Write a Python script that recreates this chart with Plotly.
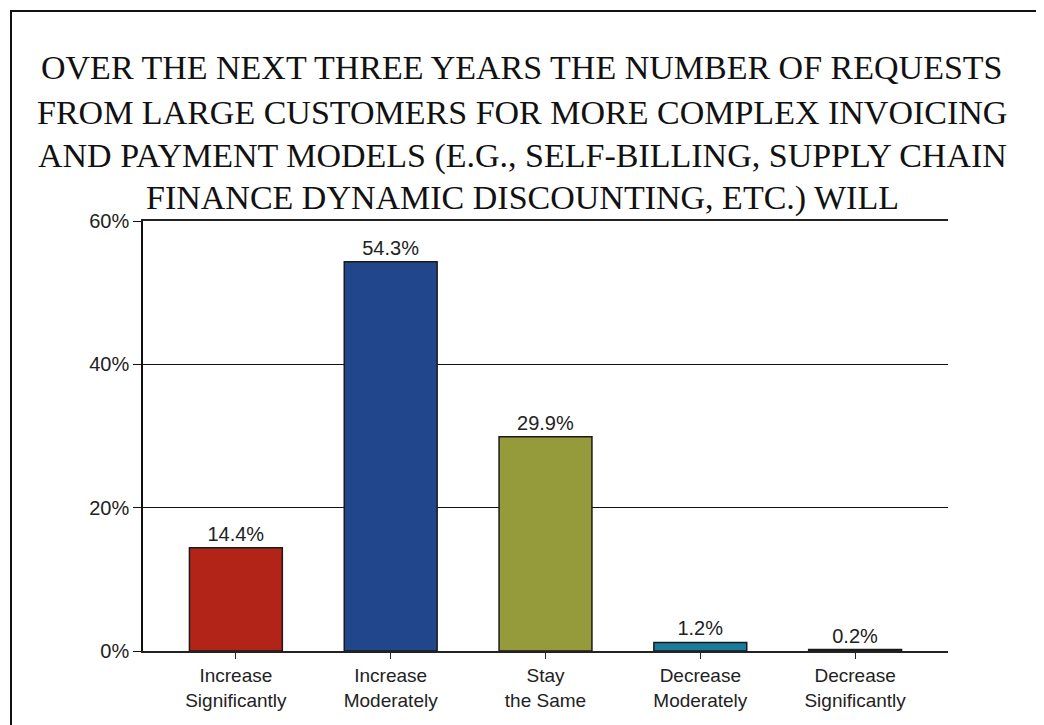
import plotly.graph_objects as go

categories = ["Increase<br>Significantly", "Increase<br>Moderately", "Stay<br>the Same",
              "Decrease<br>Moderately", "Decrease<br>Significantly"]
values = [14.4, 54.3, 29.9, 1.2, 0.2]
colors = ["#B22418", "#21468B", "#959B3A", "#1A7C9A", "#2D1A3A"]
title_lines = [
    "OVER THE NEXT THREE YEARS THE NUMBER OF REQUESTS",
    "FROM LARGE CUSTOMERS FOR MORE COMPLEX INVOICING",
    "AND PAYMENT MODELS (E.G., SELF-BILLING, SUPPLY CHAIN",
    "FINANCE DYNAMIC DISCOUNTING, ETC.) WILL",
]
yticks = [0, 20, 40, 60]

OFF = 8  # page body margin
W, H = 1044 - OFF, 725 - OFF
ml = 143 - OFF
mt = 221 - OFF
mr = W - (948 - OFF)
mb = H - (651 - OFF)
pw, ph = W - ml - mr, H - mt - mb

SANS = "Liberation Sans"

fig = go.Figure(go.Bar(
    x=list(range(len(categories))), y=values,
    marker=dict(color=colors, line=dict(color="#1a1a1a", width=1.5)),
    width=0.6,
    text=[f"{v:.1f}%" for v in values], textposition="outside",
    textfont=dict(family=SANS, size=20, color="#222"),
    cliponaxis=False,
))

fig.update_layout(
    width=W, height=H,
    margin=dict(l=ml, r=mr, t=mt, b=mb),
    paper_bgcolor="white", plot_bgcolor="white",
    showlegend=False,
    xaxis=dict(
        tickmode="array", tickvals=list(range(len(categories))), ticktext=categories,
        range=[-0.6, 4.6], showgrid=False, showline=True, linecolor="#222", linewidth=2,
        mirror=True,
        ticks="outside", ticklen=6, tickcolor="#222",
        tickfont=dict(family=SANS, size=19, color="#222"),
        zeroline=False, fixedrange=True,
    ),
    yaxis=dict(
        range=[0, 60], tickvals=yticks, ticktext=[f"{t}%" for t in yticks],
        showgrid=True, gridcolor="#111", gridwidth=1.3,
        showline=True, linecolor="#111", linewidth=1.5,
        ticks="outside", ticklen=8, tickcolor="#111",
        tickfont=dict(family=SANS, size=20, color="#222"),
        zeroline=False, fixedrange=True,
    ),
)

# helpers: screen pixel -> paper coords
def px_x(p):
    return (p - OFF - ml) / pw

def px_y(p):
    return (H - mb - (p - OFF)) / ph

fig.add_shape(type="rect", xref="paper", yref="paper",
              x0=px_x(11), x1=px_x(1042), y0=px_y(740), y1=px_y(11),
              line=dict(color="#111", width=2), fillcolor="rgba(0,0,0,0)", layer="above")

line_y = [68, 112, 156, 198]
for txt, yy in zip(title_lines, line_y):
    fig.add_annotation(text=txt, xref="paper", yref="paper",
                       x=px_x(522), y=px_y(yy), xanchor="center", yanchor="middle",
                       showarrow=False,
                       font=dict(family="Liberation Serif", size=34, color="#111"))

fig.write_html("out.html")
